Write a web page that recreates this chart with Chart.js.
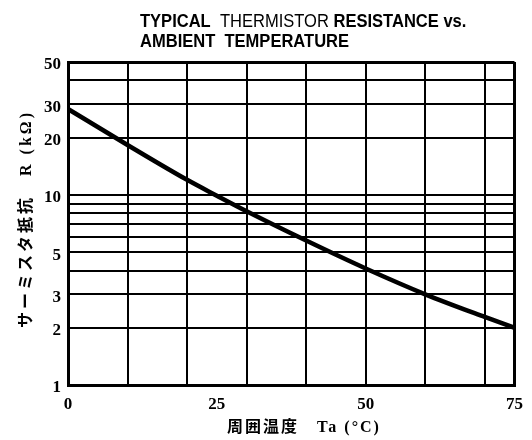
<!DOCTYPE html>
<html>
<head>
<meta charset="utf-8">
<script src="https://cdn.jsdelivr.net/npm/chart.js@4.4.1/dist/chart.umd.min.js"></script>
<style>
  body { margin: 0; background: #fff; }
  #wrap { width: 532px; height: 440px; }
</style>
</head>
<body>
<div id="wrap"><canvas id="myChart" width="532" height="440"></canvas></div>
<script>
// valori (temperatura in °C, resistenza in kΩ)
const temps = [0, 10, 20, 25, 30, 40, 50, 60, 70, 75];
const resistance = [28.3, 18.3, 12.0, 9.9, 8.2, 5.75, 4.1, 3.0, 2.28, 2.0];

// griglia e etichette
const xGridTicks = [0, 10, 20, 25, 30, 40, 50, 60, 70, 75];
const xLabelTicks = [0, 25, 50, 75];
const yGridTicks = [1, 2, 3, 4, 5, 6, 7, 8, 9, 10, 20, 30, 40, 50];
const yLabelTicks = [1, 2, 3, 5, 10, 20, 30, 50];

const titleLine1 = [["TYPICAL  ", "bold"], ["THERMISTOR ", "normal"], ["RESISTANCE vs.", "bold"]];
const titleLine2 = [["AMBIENT  TEMPERATURE", "bold"]];
const xTitle = "周囲温度　Ta (°C)";
const yTitle = "サーミスタ抵抗　R (kΩ)";

const numFont = { family: '"Liberation Serif", serif', weight: "bold", size: 17 };
const axisTitleFont = 'bold 16px "Liberation Serif", "Noto Sans CJK JP", serif';

// titolo in alto e titoli degli assi (con un po' di spaziatura tra le lettere)
const textPlugin = {
  id: "texts",
  afterDraw(chart) {
    const ctx = chart.ctx;
    ctx.save();
    ctx.fillStyle = "#000";
    ctx.textBaseline = "alphabetic";
    const drawLine = (parts, y) => {
      ctx.save();
      ctx.translate(140, y);
      ctx.scale(0.87, 1);
      let x = 0;
      parts.forEach(([txt, w]) => {
        ctx.font = w + ' 19px "Liberation Sans", Arial, sans-serif';
        ctx.fillText(txt, x, 0);
        x += ctx.measureText(txt).width;
      });
      ctx.restore();
    };
    drawLine(titleLine1, 27);
    drawLine(titleLine2, 47);

    ctx.font = axisTitleFont;
    ctx.textAlign = "center";
    ctx.textBaseline = "middle";

    // asse x
    ctx.letterSpacing = "2px";
    ctx.fillText(xTitle, 304, 428);

    // asse y
    ctx.letterSpacing = "3px";
    ctx.translate(27, 219);
    ctx.rotate(-Math.PI / 2);
    ctx.fillText(yTitle, 0, 0);
    ctx.restore();
  }
};

const edge = (v, a, b) => v === a || v === b;

const myChart = new Chart(document.getElementById("myChart"), {
  type: "line",
  data: {
    datasets: [{
      data: temps.map((t, i) => ({ x: t, y: resistance[i] })),
      borderColor: "#000",
      borderWidth: 4.5,
      pointRadius: 0,
      cubicInterpolationMode: "monotone"
    }]
  },
  options: {
    responsive: false,
    animation: false,
    devicePixelRatio: 1,
    layout: { padding: { top: 62, right: 13, left: 0, bottom: 0 } },
    plugins: {
      legend: { display: false },
      tooltip: { enabled: false }
    },
    scales: {
      x: {
        type: "linear",
        min: 0,
        max: 75,
        afterBuildTicks: s => { s.ticks = xGridTicks.map(v => ({ value: v })); },
        afterFit: s => { s.height = 55; },
        border: { color: "#000", width: 3 },
        grid: {
          drawTicks: false,
          color: c => (c.tick && c.tick.value === 25) ? "rgba(0,0,0,0)" : "#000",
          lineWidth: c => (c.tick && edge(c.tick.value, 0, 75)) ? 3 : 2
        },
        ticks: {
          autoSkip: false,
          maxRotation: 0,
          padding: 9,
          color: "#000",
          font: numFont,
          callback: v => xLabelTicks.includes(v) ? String(v) : ""
        }
      },
      y: {
        type: "logarithmic",
        min: 1,
        max: 50,
        afterBuildTicks: s => { s.ticks = yGridTicks.map(v => ({ value: v })); },
        afterFit: s => { s.width = 68; },
        border: { color: "#000", width: 3 },
        grid: {
          drawTicks: false,
          color: "#000",
          lineWidth: c => (c.tick && edge(c.tick.value, 1, 50)) ? 3 : 2
        },
        ticks: {
          autoSkip: false,
          padding: 7,
          labelOffset: 3,
          color: "#000",
          font: numFont,
          callback: v => yLabelTicks.includes(v) ? String(v) : ""
        }
      }
    }
  },
  plugins: [textPlugin]
});
</script>
</body>
</html>
